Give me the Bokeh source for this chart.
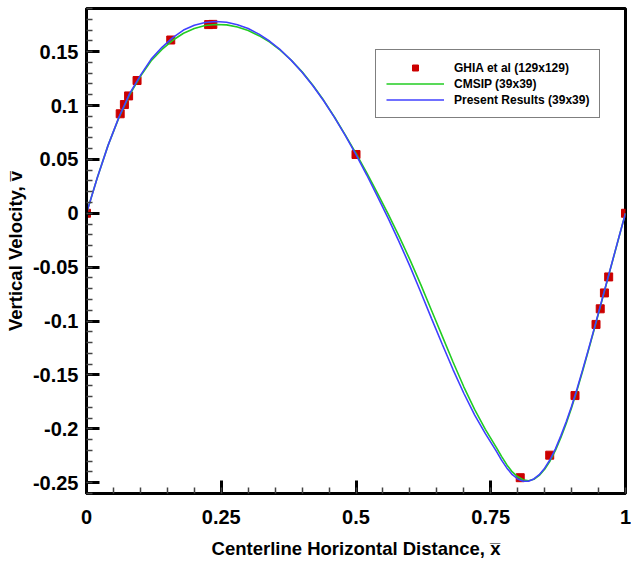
from bokeh.plotting import figure
from bokeh.models import Range1d, FixedTicker, Legend, LegendItem
from bokeh.embed import file_html
from bokeh.resources import INLINE

# Ghia et al (129x129), Re=100, vertical velocity along horizontal centerline
ghia_x = [0.0, 0.0625, 0.0703, 0.0781, 0.0938, 0.1563, 0.2266, 0.2344, 0.5,
          0.8047, 0.8594, 0.9063, 0.9453, 0.9531, 0.9609, 0.9688, 1.0]
ghia_v = [0.0, 0.09233, 0.10091, 0.10890, 0.12317, 0.16077, 0.17507, 0.17527, 0.05454,
          -0.24533, -0.22445, -0.16914, -0.10313, -0.08864, -0.07391, -0.05906, 0.0]

# curves
curve_x = [0.00, 0.02, 0.04, 0.06, 0.08, 0.10, 0.12, 0.14, 0.16, 0.18, 0.20, 0.22,
           0.24, 0.26, 0.28, 0.30, 0.32, 0.34, 0.36, 0.38, 0.40, 0.42, 0.44, 0.46,
           0.48, 0.50, 0.52, 0.54, 0.56, 0.58, 0.60, 0.62, 0.64, 0.66, 0.68, 0.70,
           0.72, 0.74, 0.76, 0.77, 0.78, 0.79, 0.80, 0.81, 0.82, 0.83, 0.84, 0.85,
           0.86, 0.87, 0.88, 0.89, 0.90, 0.91, 0.92, 0.93, 0.94, 0.95, 0.96, 0.97,
           0.98, 0.99, 1.00]
present_v = [0.000, 0.033, 0.063, 0.089, 0.111, 0.128, 0.143, 0.154, 0.163, 0.170, 0.1745, 0.177,
             0.178, 0.1773, 0.175, 0.1714, 0.1662, 0.1596, 0.1515, 0.1419, 0.1309, 0.1184, 0.1044, 0.089,
             0.0722, 0.0545, 0.0355, 0.0155, -0.0050, -0.0265, -0.0490, -0.0730, -0.0975, -0.1215, -0.1450, -0.1670,
             -0.1870, -0.2045, -0.2205, -0.2290, -0.2365, -0.2425, -0.2465, -0.2486, -0.2487, -0.2465, -0.2425, -0.2365,
             -0.2285, -0.2185, -0.2065, -0.1935, -0.1790, -0.1630, -0.1460, -0.1285, -0.1105, -0.0920, -0.0735, -0.0550,
             -0.0365, -0.0180, 0.000]
cmsip_v = [0.000, 0.033, 0.063, 0.0885, 0.110, 0.127, 0.1415, 0.152, 0.1605, 0.1670, 0.1715, 0.1742,
           0.1752, 0.1748, 0.1728, 0.1695, 0.1648, 0.1588, 0.1512, 0.1420, 0.1312, 0.1188, 0.1048, 0.0893,
           0.0728, 0.0555, 0.0375, 0.0185, -0.0010, -0.0215, -0.0430, -0.0660, -0.0900, -0.1140, -0.1380, -0.1610,
           -0.1820, -0.2005, -0.2170, -0.2255, -0.2335, -0.2400, -0.2445, -0.2472, -0.2482, -0.2468, -0.2432, -0.2375,
           -0.2298, -0.2200, -0.2082, -0.1950, -0.1805, -0.1643, -0.1472, -0.1295, -0.1113, -0.0927, -0.0740, -0.0555,
           -0.0368, -0.0183, 0.000]

x_ticks = [0, 0.25, 0.5, 0.75, 1]
x_tick_labels = ["0", "0.25", "0.5", "0.75", "1"]
y_ticks = [-0.25, -0.2, -0.15, -0.1, -0.05, 0, 0.05, 0.1, 0.15]
y_tick_labels = ["-0.25", "-0.2", "-0.15", "-0.1", "-0.05", "0", "0.05", "0.1", "0.15"]
x_minor = [round(i * 0.05, 2) for i in range(21)]
y_minor = [round(-0.26 + i * 0.01, 2) for i in range(46)]

X_MIN, X_MAX = 0.0, 1.0
Y_MIN, Y_MAX = -0.26, 0.19

FONT = "Liberation Sans"

p = figure(width=631, height=562, output_backend="svg", toolbar_location=None,
           x_range=Range1d(X_MIN, X_MAX), y_range=Range1d(Y_MIN, Y_MAX),
           min_border_left=86, min_border_right=6, min_border_top=8, min_border_bottom=69)
p.grid.visible = False
p.outline_line_color = "black"
p.outline_line_width = 3
p.background_fill_color = "white"
p.border_fill_color = "white"

r_ghia = p.scatter(ghia_x, ghia_v, marker="square", size=8, fill_color="#cc0000",
                   line_color="#cc0000")
r_cmsip = p.line(curve_x, cmsip_v, line_color="#22cc22", line_width=1.6)
r_pres = p.line(curve_x, present_v, line_color="#4040ff", line_width=1.6)

for ax, ticks, labels, minor in ((p.xaxis[0], x_ticks, x_tick_labels, x_minor),
                                 (p.yaxis[0], y_ticks, y_tick_labels, y_minor)):
    ax.ticker = FixedTicker(ticks=ticks, minor_ticks=minor)
    ax.major_label_overrides = {t: l for t, l in zip(ticks, labels)}
    ax.major_tick_in = 13
    ax.major_tick_out = 0
    ax.minor_tick_in = 6
    ax.minor_tick_out = 0
    ax.major_tick_line_width = 3
    ax.minor_tick_line_width = 1.5
    ax.major_tick_line_color = "black"
    ax.minor_tick_line_color = "#444444"
    ax.axis_line_width = 3
    ax.axis_line_color = "black"
    ax.major_label_text_font = FONT
    ax.major_label_text_font_style = "bold"
    ax.major_label_text_font_size = "20px"
    ax.major_label_text_color = "black"
    ax.axis_label_text_font = FONT
    ax.axis_label_text_font_style = "bold"
    ax.axis_label_text_font_size = "18.5px"
    ax.axis_label_text_color = "black"

xa = p.xaxis[0]
xa.major_label_standoff = 16
xa.axis_label_standoff = 11
ya = p.yaxis[0]
ya.major_label_standoff = 8
ya.axis_label_standoff = 4

xa.axis_label = "Centerline Horizontal Distance, x\u0305"
ya.axis_label = "Vertical Velocity, v\u0305"

legend = Legend(items=[
    LegendItem(label="GHIA et al (129x129)", renderers=[r_ghia]),
    LegendItem(label="CMSIP (39x39)", renderers=[r_cmsip]),
    LegendItem(label="Present Results (39x39)", renderers=[r_pres]),
], location=(289, 375))
legend.label_text_font = FONT
legend.label_text_font_style = "bold"
legend.label_text_font_size = "12px"
legend.label_text_color = "black"
legend.glyph_width = 58
legend.glyph_height = 15
legend.label_height = 15
legend.label_standoff = 10
legend.spacing = 1
legend.padding = 10
legend.margin = 0
legend.border_line_color = "black"
legend.border_line_width = 1
legend.background_fill_alpha = 1.0
p.add_layout(legend)

open("out.html", "w").write(file_html(p, INLINE))
